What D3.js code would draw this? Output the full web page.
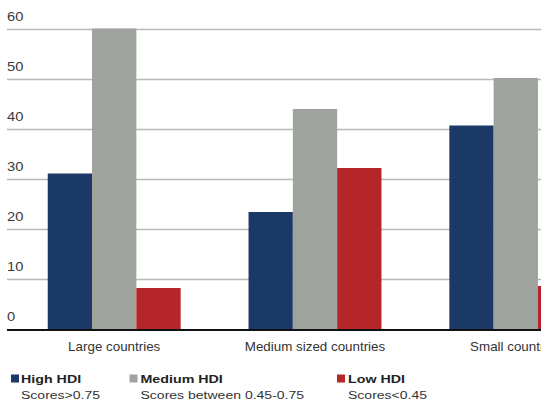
<!DOCTYPE html>
<html>
<head>
<meta charset="utf-8">
<script src="https://cdn.jsdelivr.net/npm/d3@7"></script>
<style>
  html, body { margin: 0; padding: 0; background: #fff; }
  svg { display: block; }
  text { font-family: "Liberation Sans", Arial, Helvetica, sans-serif; }
</style>
</head>
<body>
<div id="chart"></div>
<script>
// ---- Data ----
const categories = ["Large countries", "Medium sized countries", "Small countries"];
const seriesNames = ["High HDI", "Medium HDI", "Low HDI"];
const seriesSub = ["Scores>0.75", "Scores between 0.45-0.75", "Scores<0.45"];
const highHDI = [31.2, 23.5, 40.8];
const mediumHDI = [60.2, 44.1, 50.3];
const lowHDI = [8.3, 32.3, 8.7];
const yTicks = [0, 10, 20, 30, 40, 50, 60];

const colors = ["#1b3966", "#9ea39d", "#b4262a"];

const W = 541, H = 407;
const svg = d3.select("#chart").append("svg").attr("width", W).attr("height", H);

const values = [highHDI, mediumHDI, lowHDI];
const table = categories.map((c, i) => ({ cat: c, vals: values.map(v => v[i]) }));

const y = d3.scaleLinear().domain([0, 60]).range([329.5, 29.5]);
const x0 = d3.scaleBand().domain(categories).range([13.8, 616.2]).paddingInner(0.338).paddingOuter(0.169);
const x1 = d3.scaleBand().domain(seriesNames).range([0, x0.bandwidth()]);

// Gridlines
svg.append("g").selectAll("line").data(yTicks.filter(t => t > 0)).join("line")
  .attr("x1", 7).attr("x2", W)
  .attr("y1", d => y(d)).attr("y2", d => y(d))
  .attr("stroke", "#b9b9b9").attr("stroke-width", 1.4);

// Tick labels (above gridlines)
svg.append("g").selectAll("text").data(yTicks).join("text")
  .attr("transform", d => `translate(7,${y(d) - 8.5}) scale(1.18,1)`)
  .attr("font-size", 12.5).attr("fill", "#3a3a3a")
  .text(d => d);

// Bars
const groups = svg.append("g").selectAll("g").data(table).join("g")
  .attr("transform", d => `translate(${x0(d.cat)},0)`);
groups.selectAll("rect").data(d => d.vals.map((v, i) => ({ s: seriesNames[i], v, i }))).join("rect")
  .attr("x", d => x1(d.s))
  .attr("width", x1.bandwidth())
  .attr("y", d => y(d.v))
  .attr("height", d => y(0) - y(d.v))
  .attr("fill", d => colors[d.i]);

// Baseline axis
svg.append("line").attr("x1", 7).attr("x2", W).attr("y1", 330).attr("y2", 330)
  .attr("stroke", "#111").attr("stroke-width", 2);

// Category labels
svg.append("g").selectAll("text").data(categories).join("text")
  .attr("transform", d => `translate(${x0(d) + x0.bandwidth() / 2},351) scale(1.07,1)`)
  .attr("text-anchor", "middle").attr("font-size", 12.5).attr("fill", "#333")
  .text(d => d);

// Legend
const legX = [11, 129.5, 337];
const leg = svg.append("g").selectAll("g").data(seriesNames).join("g")
  .attr("transform", (d, i) => `translate(${legX[i]},0)`);
leg.append("rect").attr("x", 0).attr("y", 374.5).attr("width", 8).attr("height", 8)
  .attr("fill", (d, i) => colors[i]);
leg.append("text")
  .attr("transform", (d, i) => `translate(${i === 0 ? 10 : 11},382.5) scale(1.24,1)`)
  .attr("font-size", 11.5).attr("font-weight", "bold").attr("fill", "#222")
  .text(d => d);
leg.append("text")
  .attr("transform", (d, i) => `translate(${i === 0 ? 10 : 11},398.5) scale(1.22,1)`)
  .attr("font-size", 11.5).attr("fill", "#333")
  .text((d, i) => seriesSub[i]);
</script>
</body>
</html>
